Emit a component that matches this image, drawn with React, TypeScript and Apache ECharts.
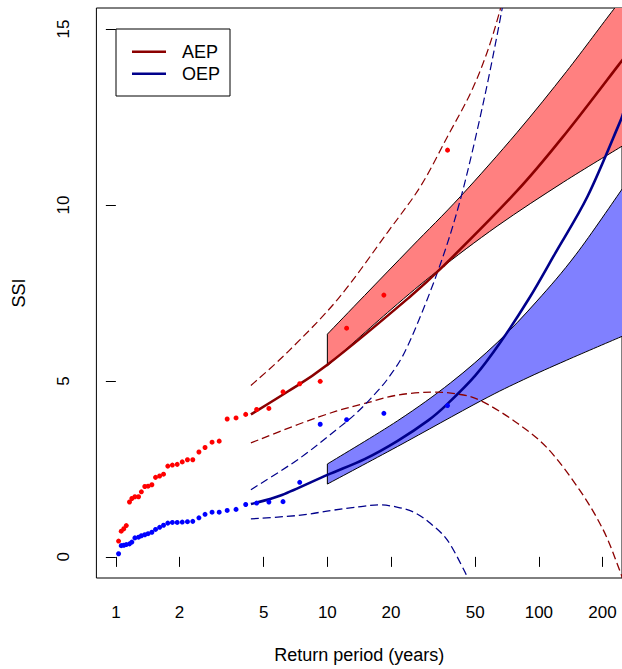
import React, { useEffect, useRef } from 'react';
import * as echarts from 'echarts';

// ---- axis ticks ----
const X_TICKS = [1, 2, 5, 10, 20, 50, 100, 200];
const Y_TICKS = [0, 5, 10, 15];
const X_LIMITS = [1, 200];
const Y_LIMITS = [0, 15];

// ---- observed points (return period in years) ----
const RETURN_PERIODS = [37, 18.5, 12.33, 9.25, 7.4, 6.17, 5.29, 4.63, 4.11, 3.7, 3.36, 3.08, 2.85, 2.64, 2.47, 2.31, 2.18, 2.06, 1.95, 1.85, 1.76, 1.68, 1.61, 1.54, 1.48, 1.42, 1.37, 1.32, 1.28, 1.23, 1.19, 1.16, 1.12, 1.09, 1.06, 1.03];
const AEP_OBS = [11.56, 7.44, 6.5, 4.99, 4.92, 4.69, 4.22, 4.19, 4.05, 3.95, 3.92, 3.29, 3.26, 3.11, 2.98, 2.76, 2.76, 2.7, 2.63, 2.61, 2.58, 2.35, 2.3, 2.26, 2.05, 2.01, 2.0, 1.85, 1.71, 1.71, 1.66, 1.56, 0.89, 0.8, 0.73, 0.45];
const OEP_OBS = [4.3, 4.08, 3.9, 3.77, 2.12, 1.57, 1.56, 1.53, 1.49, 1.35, 1.32, 1.27, 1.27, 1.21, 1.11, 1.01, 1.0, 0.99, 0.98, 0.98, 0.96, 0.9, 0.84, 0.78, 0.7, 0.66, 0.63, 0.6, 0.56, 0.54, 0.42, 0.37, 0.35, 0.33, 0.32, 0.09];

// ---- fitted curves [return period, SSI] ----
const AEP_FIT = [[4.35, 4.05], [6.5, 4.7], [10, 5.46], [24, 7.34], [35.7, 8.29], [78.8, 10.4], [135.3, 12.07], [237.5, 13.97], [250, 14.14]];
const AEP_BAND_UP = [[10, 6.33], [15, 7.43], [25, 8.81], [42.7, 10.25], [78.8, 12.06], [135.3, 13.8], [225, 15.55], [250, 15.85]];
const AEP_BAND_LO = [[10, 5.43], [20, 7.03], [33.2, 8.13], [63.5, 9.4], [130.6, 10.65], [250, 11.69]];
const AEP_DASH_UP = [[4.35, 4.87], [6.56, 5.85], [11.26, 7.34], [19.34, 9.24], [27.63, 10.54], [37, 11.95], [47.6, 13.19], [57, 14.35], [65.8, 15.58], [72, 16.6]];
const AEP_DASH_LO = [[4.35, 3.24], [7.31, 3.77], [11, 4.14], [15, 4.36], [21.5, 4.6], [30.9, 4.68], [41.2, 4.63], [53, 4.44], [76.1, 3.87], [109, 3.11], [156.3, 1.89], [201.8, 0.76], [237.5, -0.28], [260, -0.95]];

const OEP_FIT = [[4.35, 1.5], [6.1, 1.76], [10, 2.33], [15, 2.78], [21.5, 3.3], [30, 3.88], [37, 4.35], [50, 5.15], [65.8, 6.1], [90, 7.35], [120, 8.65], [170, 10.25], [237.5, 12.25], [250, 12.6]];
const OEP_BAND_UP = [[10, 2.64], [21.5, 3.87], [38.3, 4.95], [63.5, 6.09], [97.9, 7.27], [150, 8.6], [250, 10.49]];
const OEP_BAND_LO = [[10, 2.07], [21.5, 3.14], [53, 4.43], [84.8, 5.04], [135.3, 5.59], [250, 6.28]];
const OEP_DASH_UP = [[4.35, 1.91], [7.31, 2.78], [11.06, 3.62], [13.5, 4.05], [16.14, 4.52], [19.5, 5.1], [24, 6.0], [33.2, 8.1], [42.7, 10.19], [55, 12.99], [67.05, 15.58], [72, 16.7]];
const OEP_DASH_LO = [[4.35, 1.08], [7.31, 1.18], [10.44, 1.32], [14, 1.42], [17.5, 1.48], [21.54, 1.41], [26, 1.25], [30.88, 0.94], [37, 0.47], [44.3, -0.38], [47.5, -0.8]];

const FONT = "'Liberation Sans', Arial, Helvetica, sans-serif";
const AEP_LINE = '#8B0000';
const OEP_LINE = '#00008B';

const lg = (t: number) => Math.log10(t);

function catmull(p: number[][]): string {
  let s = '';
  for (let i = 0; i < p.length - 1; i++) {
    const p0 = p[i - 1] || p[i];
    const p1 = p[i];
    const p2 = p[i + 1];
    const p3 = p[i + 2] || p[i + 1];
    const c1x = p1[0] + (p2[0] - p0[0]) / 6;
    const c1y = p1[1] + (p2[1] - p0[1]) / 6;
    const c2x = p2[0] - (p3[0] - p1[0]) / 6;
    const c2y = p2[1] - (p3[1] - p1[1]) / 6;
    s += ` C${c1x},${c1y} ${c2x},${c2y} ${p2[0]},${p2[1]}`;
  }
  return s;
}

function bandSeries(name: string, upper: number[][], lower: number[][], fill: string) {
  return {
    name,
    type: 'custom',
    z: 1,
    clip: true,
    silent: true,
    itemStyle: { color: fill },
    data: upper.map(([t, v]) => [lg(t), v]),
    renderItem: (params: any, api: any) => {
      if (params.dataIndex !== 0) return null;
      const up = upper.map(([t, v]) => api.coord([lg(t), v]));
      const lo = lower.map(([t, v]) => api.coord([lg(t), v])).reverse();
      const d =
        `M${up[0][0]},${up[0][1]}` +
        catmull(up) +
        ` L${lo[0][0]},${lo[0][1]}` +
        catmull(lo) +
        ' Z';
      return {
        type: 'path',
        shape: { pathData: d },
        style: { fill, stroke: '#000', lineWidth: 1 },
      };
    },
  };
}

function curveSeries(name: string, pts: number[][], color: string, width: number, dashed: boolean, z: number) {
  return {
    name,
    type: 'custom',
    z,
    clip: true,
    silent: true,
    itemStyle: { color },
    data: pts.map(([t, v]) => [lg(t), v]),
    renderItem: (params: any, api: any) => {
      if (params.dataIndex !== 0) return null;
      const px = pts.map(([t, v]) => api.coord([lg(t), v]));
      const d = `M${px[0][0]},${px[0][1]}` + catmull(px);
      return {
        type: 'path',
        shape: { pathData: d },
        style: {
          fill: 'none',
          stroke: color,
          lineWidth: width,
          lineDash: dashed ? [8, 4] : null,
          lineCap: 'butt',
        },
      };
    },
  };
}

export default function App() {
  const ref = useRef<HTMLDivElement>(null);

  useEffect(() => {
    document.body.style.margin = '0';
    if (!ref.current) return;
    const chart = echarts.init(ref.current, undefined, { renderer: 'svg' });

    const xl0 = lg(X_LIMITS[0]);
    const xl1 = lg(X_LIMITS[1]);
    const xpad = 0.04 * (xl1 - xl0);
    const ypad = 0.04 * (Y_LIMITS[1] - Y_LIMITS[0]);

    const option: any = {
      animation: false,
      grid: {
        left: 96.4,
        top: 8,
        width: 529.3,
        height: 573.5,
        show: true,
        borderColor: '#000',
        borderWidth: 1,
        backgroundColor: 'transparent',
      },
      legend: {
        data: [
          { name: 'AEP', icon: 'path://M0,0H34V2.6H0Z', itemStyle: { color: AEP_LINE } },
          { name: 'OEP', icon: 'path://M0,0H34V2.6H0Z', itemStyle: { color: OEP_LINE } },
        ],
        orient: 'vertical',
        left: 116,
        top: 29,
        padding: [12.7, 10, 12.3, 16],
        itemGap: 2,
        itemWidth: 34,
        itemHeight: 14,
        selectedMode: false,
        borderColor: '#000',
        borderWidth: 1,
        borderRadius: 0,
        backgroundColor: '#fff',
        textStyle: { fontSize: 18, lineHeight: 20, color: '#000', fontFamily: FONT, padding: [0, 0, 0, 11] },
      },
      xAxis: {
        type: 'value',
        min: xl0 - xpad,
        max: xl1 + xpad,
        axisLine: { show: false },
        splitLine: { show: false },
        axisTick: {
          show: true,
          length: 10,
          customValues: X_TICKS.map(lg),
          lineStyle: { color: '#000', width: 1 },
        },
        axisLabel: {
          customValues: X_TICKS.map(lg),
          formatter: (v: number) => String(Math.round(Math.pow(10, v))),
          fontSize: 17,
          color: '#000',
          fontFamily: FONT,
          margin: 26,
        },
        name: 'Return period (years)',
        nameLocation: 'middle',
        nameGap: 68,
        nameTextStyle: { fontSize: 18, color: '#000', fontFamily: FONT },
      },
      yAxis: {
        type: 'value',
        min: Y_LIMITS[0] - ypad,
        max: Y_LIMITS[1] + ypad,
        axisLine: { show: false },
        splitLine: { show: false },
        axisTick: {
          show: true,
          length: 10,
          customValues: Y_TICKS,
          lineStyle: { color: '#000', width: 1 },
        },
        axisLabel: {
          customValues: Y_TICKS,
          rotate: 90,
          fontSize: 17,
          color: '#000',
          fontFamily: FONT,
          margin: 24,
        },
        name: 'SSI',
        nameLocation: 'middle',
        nameGap: 68,
        nameTextStyle: { fontSize: 18, color: '#000', fontFamily: FONT },
      },
      series: [
        bandSeries('AEP interval', AEP_BAND_UP, AEP_BAND_LO, '#FF8080'),
        bandSeries('OEP interval', OEP_BAND_UP, OEP_BAND_LO, '#8080FF'),
        curveSeries('AEP upper bound', AEP_DASH_UP, AEP_LINE, 1.2, true, 3),
        curveSeries('AEP lower bound', AEP_DASH_LO, AEP_LINE, 1.3, true, 3),
        curveSeries('OEP upper bound', OEP_DASH_UP, OEP_LINE, 1.2, true, 3),
        curveSeries('OEP lower bound', OEP_DASH_LO, OEP_LINE, 1.3, true, 3),
        curveSeries('AEP', AEP_FIT, AEP_LINE, 2.6, false, 4),
        curveSeries('OEP', OEP_FIT, OEP_LINE, 2.6, false, 4),
        {
          name: 'AEP observed',
          type: 'scatter',
          data: RETURN_PERIODS.map((t, i) => [lg(t), AEP_OBS[i]]),
          symbol: 'circle',
          symbolSize: 5,
          itemStyle: { color: '#FF0000', opacity: 1 },
          z: 5,
          silent: true,
        },
        {
          name: 'OEP observed',
          type: 'scatter',
          data: RETURN_PERIODS.map((t, i) => [lg(t), OEP_OBS[i]]),
          symbol: 'circle',
          symbolSize: 5,
          itemStyle: { color: '#0000FF', opacity: 1 },
          z: 5,
          silent: true,
        },
      ],
    };

    chart.setOption(option);
    return () => chart.dispose();
  }, []);

  return <div ref={ref} style={{ width: 622, height: 669 }} />;
}
